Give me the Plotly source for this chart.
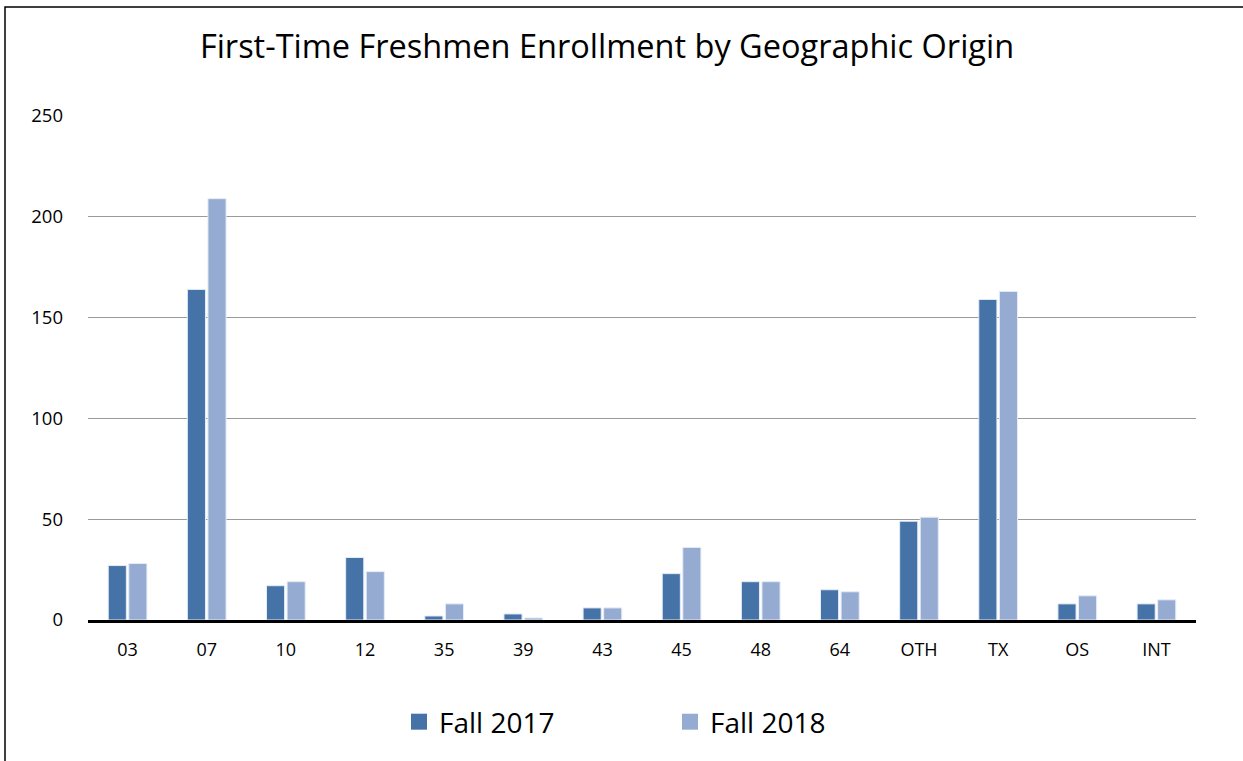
import plotly.graph_objects as go

categories = ["03", "07", "10", "12", "35", "39", "43", "45", "48", "64", "OTH", "TX", "OS", "INT"]
fall_2017 = [27, 164, 17, 31, 2, 3, 6, 23, 19, 15, 49, 159, 8, 8]
fall_2018 = [28, 209, 19, 24, 8, 1, 6, 36, 19, 14, 51, 163, 12, 10]
series = [("Fall 2017", fall_2017, "#4573A7"), ("Fall 2018", fall_2018, "#96ABD2")]

W, H = 1243, 761
L, R, T, B = 88, 47, 116, 141
pw, ph = W - L - R, H - T - B

fig = go.Figure()
for name, vals, col in series:
    fig.add_trace(go.Bar(x=categories, y=vals, name=name, showlegend=False,
                         marker=dict(color=col, line=dict(color="#E4ECF6", width=1))))
# legend entries with bigger square swatches
for name, vals, col in series:
    fig.add_trace(go.Scatter(x=[None], y=[None], name=name, mode="markers",
                             marker=dict(symbol="square", size=18, color=col)))

# outer chart border (top and left visible)
fig.add_shape(type="rect", xref="paper", yref="paper",
              x0=(5 - L) / pw, x1=(W + 20 - L) / pw,
              y0=-(H + 20 - T - ph) / ph, y1=(T + ph - 7) / ph,
              line=dict(color="black", width=1.5), layer="below")

fig.update_layout(
    width=W, height=H,
    margin=dict(l=L, r=R, t=T, b=B),
    paper_bgcolor="white", plot_bgcolor="white",
    font=dict(family="Open Sans, Noto Sans, sans-serif", color="black"),
    title=dict(text="First-Time Freshmen Enrollment by Geographic Origin",
               x=607 / W, xanchor="center", y=1 - 47 / H, yanchor="middle",
               font=dict(size=32.5, color="black")),
    barmode="group", bargap=0.48, bargroupgap=0.12,
    xaxis=dict(showgrid=False, showline=True, linecolor="black", linewidth=2.5,
               ticks="", tickfont=dict(size=18), ticklabelstandoff=12),
    yaxis=dict(range=[0, 250], dtick=50, showgrid=True, gridcolor="#9A9A9A", gridwidth=1,
               zeroline=False, showline=False, ticks="", tickfont=dict(size=18.5),
               ticklabelstandoff=24),
    legend=dict(orientation="h", x=0.5 + 28 / pw, xanchor="center", y=-(722 - T - ph) / ph,
                yanchor="middle", font=dict(size=28), itemwidth=30,
                entrywidth=226, traceorder="normal"),
)

fig.write_html("out.html", config={"displayModeBar": False},
               post_script="document.body.style.margin='0';")
